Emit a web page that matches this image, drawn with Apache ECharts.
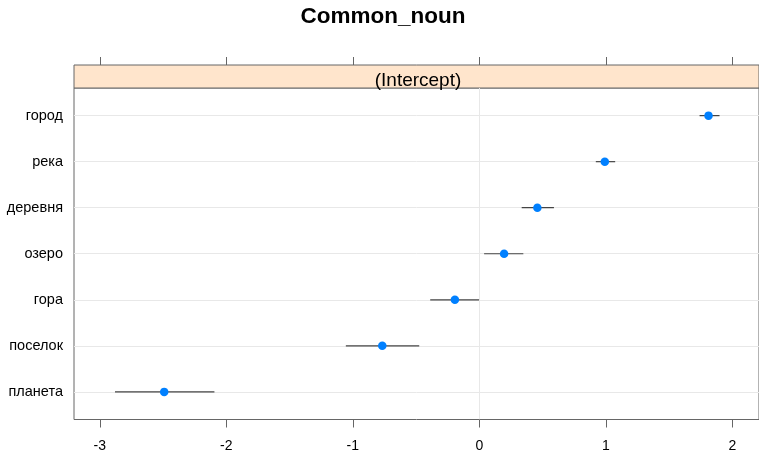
<!DOCTYPE html>
<html>
<head>
<meta charset="utf-8">
<script src="https://cdn.jsdelivr.net/npm/echarts@6/dist/echarts.min.js"></script>
<style>html,body{margin:0;padding:0;background:#fff}#c{width:759px;height:455px}</style>
</head>
<body>
<div id="c"></div>
<script>
// Data (top to bottom as displayed)
const categories = ['город', 'река', 'деревня', 'озеро', 'гора', 'поселок', 'планета'];
const estimates = [1.812, 0.992, 0.459, 0.196, -0.193, -0.767, -2.491];
const lowers    = [1.741, 0.921, 0.335, 0.038, -0.388, -1.055, -2.880];
const uppers    = [1.899, 1.074, 0.590, 0.348, -0.002, -0.475, -2.094];
const xTicks = [-3, -2, -1, 0, 1, 2];
const titleText = 'Common_noun';
const stripText = '(Intercept)';

const n = categories.length;
const rows = categories.map((c, i) => n - i);
const xMin = -3.204, xMax = 2.211;
const FONT = '"Liberation Sans", Arial, sans-serif';

const chart = echarts.init(document.getElementById('c'), null, {renderer: 'canvas'});
chart.setOption({
  animation: false,
  backgroundColor: '#fff',
  textStyle: {fontFamily: FONT},
  title: [
    {text: titleText, left: 378, textAlign: 'center', top: 0,
     textStyle: {fontSize: 22.5, fontWeight: 'bold', color: '#000', fontFamily: FONT}},
    {text: stripText, left: 413, textAlign: 'center', top: 66,
     textStyle: {fontSize: 19, fontWeight: 'normal', color: '#000', fontFamily: FONT}}
  ],
  grid: [
    {left: 74, right: -2, top: 88, bottom: 35.5, show: true, borderColor: '#666', borderWidth: 1, backgroundColor: 'transparent'},
    {left: 74, right: -2, top: 65, height: 23, show: true, borderColor: '#666', borderWidth: 1, backgroundColor: '#ffe5cc'}
  ],
  xAxis: [
    {type: 'value', gridIndex: 0, min: xMin, max: xMax,
     axisLine: {show: false, onZero: false},
     axisTick: {show: true, length: 8, inside: false, customValues: xTicks, lineStyle: {color: '#666'}},
     axisLabel: {show: true, customValues: xTicks, fontSize: 14, color: '#000', margin: 20, fontFamily: FONT},
     splitLine: {show: false}},
    {type: 'value', gridIndex: 1, position: 'top', min: xMin, max: xMax,
     axisLine: {show: false, onZero: false},
     axisTick: {show: true, length: 8, inside: false, customValues: xTicks, lineStyle: {color: '#666'}},
     axisLabel: {show: false},
     splitLine: {show: false}}
  ],
  yAxis: [
    {type: 'value', gridIndex: 0, min: 0.4, max: 7.6,
     axisLine: {show: false}, axisTick: {show: false},
     axisLabel: {show: true, customValues: rows, fontSize: 14.5, color: '#000', margin: 11, fontFamily: FONT,
                 formatter: v => categories[n - Math.round(v)] || ''},
     splitLine: {show: false}},
    {type: 'value', gridIndex: 1, min: 0, max: 1, show: false}
  ],
  series: [
    {type: 'line', xAxisIndex: 0, yAxisIndex: 0, data: [], z: 0, silent: true,
     markLine: {silent: true, z: 0, symbol: ['none', 'none'], label: {show: false},
       lineStyle: {color: '#e8e8e8', width: 1, type: 'solid'},
       data: rows.map(v => ({yAxis: v})).concat([{xAxis: 0}])}},
    {type: 'custom', xAxisIndex: 0, yAxisIndex: 0, z: 5, silent: true,
     data: categories.map((c, i) => [lowers[i], uppers[i], rows[i]]),
     renderItem: function (params, api) {
       const p1 = api.coord([api.value(0), api.value(2)]);
       const p2 = api.coord([api.value(1), api.value(2)]);
       return {type: 'line', shape: {x1: p1[0], y1: p1[1], x2: p2[0], y2: p2[1]},
               style: {stroke: '#444', lineWidth: 1.2}};
     }},
    {type: 'scatter', xAxisIndex: 0, yAxisIndex: 0, z: 6, symbol: 'circle', symbolSize: 8.5,
     itemStyle: {color: '#0080ff', opacity: 1},
     data: categories.map((c, i) => [estimates[i], rows[i]])}
  ]
});
</script>
</body>
</html>
